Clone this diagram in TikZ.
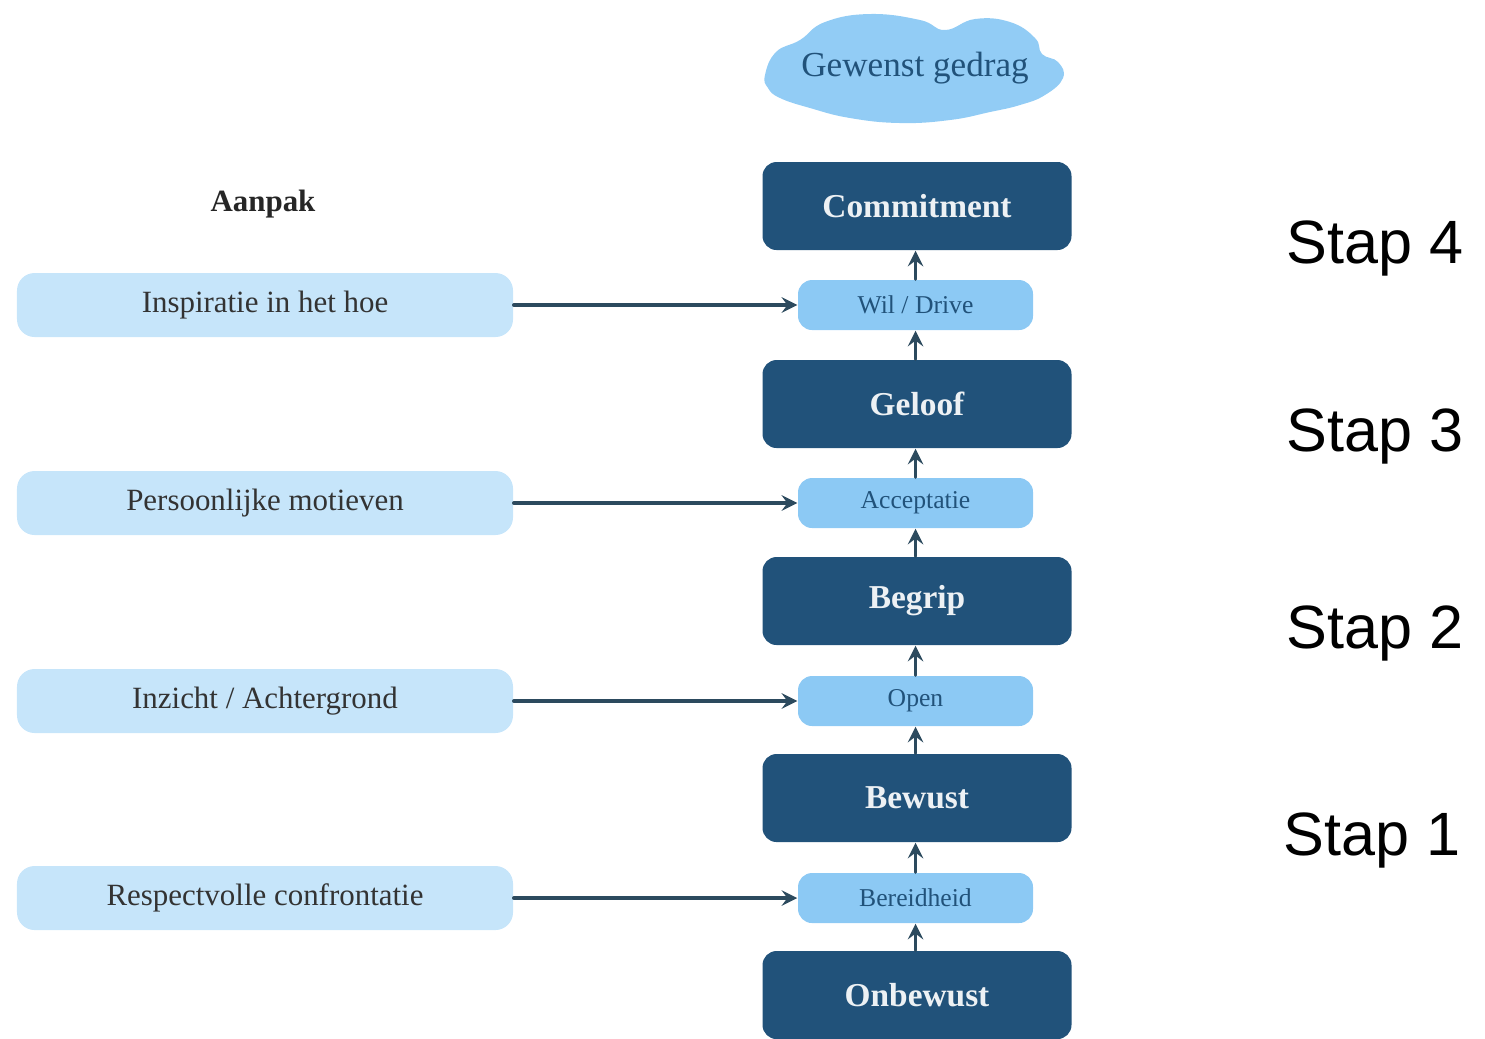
\documentclass[tikz,border=0pt]{standalone}
\usepackage{fontspec}
\setmainfont{Liberation Serif}
\setsansfont{Liberation Sans}
\definecolor{donker}{RGB}{33,82,122}
\definecolor{licht}{RGB}{140,201,244}
\definecolor{bleek}{RGB}{198,229,250}
\definecolor{pijlkleur}{RGB}{44,74,94}
\begin{document}
\begin{tikzpicture}[>=stealth,line join=round,line cap=round,
	fase/.style={fill=donker,rounded corners=4pt,inner sep=0pt,minimum width=3.09cm,minimum height=0.88cm,text=white!92!donker,font=\bfseries\fontsize{9.5}{11}\selectfont},
	tussen/.style={fill=licht,rounded corners=4pt,inner sep=0pt,minimum width=2.35cm,minimum height=0.5cm,text=donker,font=\fontsize{7.3}{8}\selectfont},
	aanpak/.style={fill=bleek,rounded corners=5pt,inner sep=0pt,minimum width=4.96cm,minimum height=0.64cm,text=black!80,font=\fontsize{8.8}{10}\selectfont},
	stap/.style={font=\sffamily\fontsize{17.4}{20}\selectfont},
	pijl/.style={->,draw=pijlkleur,line width=0.95pt}]
	% Kader
	\useasboundingbox (0,0) rectangle (14.85,-10.38);
	% Wolk
	\fill [licht!95!white,smooth cycle,tension=0.75] plot coordinates {(7.65,-0.75) (7.76,-0.52) (8.00,-0.40) (8.25,-0.22) (8.70,-0.14) (9.20,-0.20) (9.45,-0.30) (9.75,-0.19) (10.10,-0.22) (10.35,-0.38) (10.42,-0.54) (10.58,-0.62) (10.63,-0.78) (10.45,-0.95) (10.20,-1.05) (9.90,-1.12) (9.50,-1.20) (9.00,-1.23) (8.50,-1.18) (8.10,-1.08) (7.80,-0.98) (7.68,-0.88)};
	\node [text=donker,font=\fontsize{10}{12}\selectfont] (wolk) at (9.15,-0.68) {Gewenst gedrag};
	% Fasen
	\node [fase] (commitment) at (9.17,-2.06) {Commitment};
	\node [fase] (geloof) at (9.17,-4.04) {Geloof};
	\node [fase] (begrip) at (9.17,-6.01) {Begrip};
	\node [fase] (bewust) at (9.17,-7.98) {Bewust};
	\node [fase] (onbewust) at (9.17,-9.95) {Onbewust};
	% Tussenstappen
	\node [tussen] (wil) at (9.155,-3.05) {Wil / Drive};
	\node [tussen] (acceptatie) at (9.155,-5.03) {Acceptatie};
	\node [tussen] (open) at (9.155,-7.01) {Open};
	\node [tussen] (bereidheid) at (9.155,-8.98) {Bereidheid};
	% Aanpak
	\node [font=\bfseries\fontsize{8.8}{10}\selectfont,text=black!85] (titel) at (2.63,-2.04) {Aanpak};
	\node [aanpak] (inspiratie) at (2.65,-3.05) {Inspiratie in het hoe};
	\node [aanpak] (motieven) at (2.65,-5.03) {Persoonlijke motieven};
	\node [aanpak] (inzicht) at (2.65,-7.01) {Inzicht / Achtergrond};
	\node [aanpak] (confrontatie) at (2.65,-8.98) {Respectvolle confrontatie};
	% Stappen
	\node [stap] (stap4) at (13.75,-2.48) {Stap 4};
	\node [stap] (stap3) at (13.75,-4.36) {Stap 3};
	\node [stap] (stap2) at (13.75,-6.33) {Stap 2};
	\node [stap] (stap1) at (13.72,-8.40) {Stap 1};
	% Pijlen
	\draw [pijl] (inspiratie) -- (wil);
	\draw [pijl] (motieven) -- (acceptatie);
	\draw [pijl] (inzicht) -- (open);
	\draw [pijl] (confrontatie) -- (bereidheid);
	\draw [pijl] (onbewust.north -| bereidheid) -- (bereidheid.south);
	\draw [pijl] (bereidheid.north) -- (bewust.south -| bereidheid);
	\draw [pijl] (bewust.north -| open) -- (open.south);
	\draw [pijl] (open.north) -- (begrip.south -| open);
	\draw [pijl] (begrip.north -| acceptatie) -- (acceptatie.south);
	\draw [pijl] (acceptatie.north) -- (geloof.south -| acceptatie);
	\draw [pijl] (geloof.north -| wil) -- (wil.south);
	\draw [pijl] (wil.north) -- (commitment.south -| wil);
\end{tikzpicture}
\end{document}
